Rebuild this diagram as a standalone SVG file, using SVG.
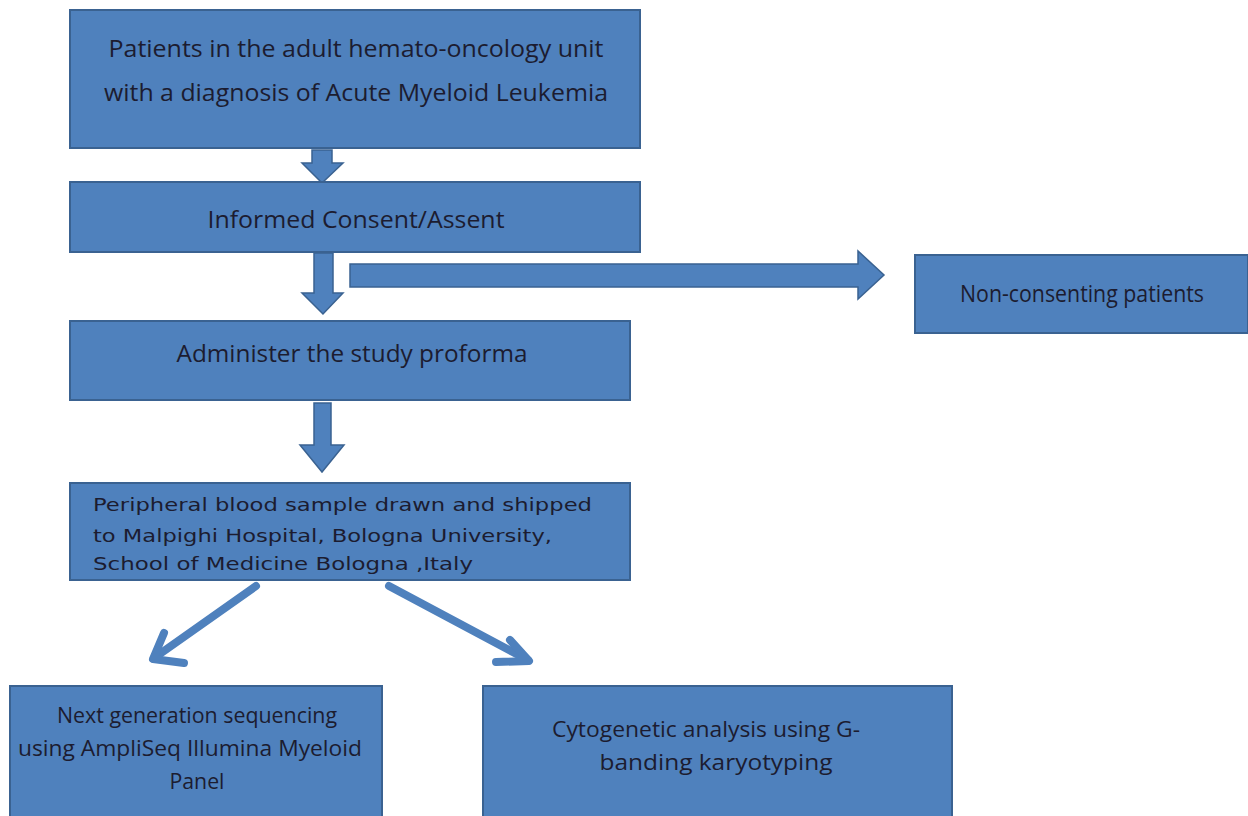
<svg xmlns="http://www.w3.org/2000/svg" width="1248" height="816" viewBox="0 0 1248 816">
<style>
.box{fill:#4f81bd;stroke:#3a6291;stroke-width:2}
.arr{fill:#4f81bd;stroke:#3a6291;stroke-width:1.5}
.t{font-family:"Open Sans","Liberation Sans",sans-serif;fill:#1c1c30;font-size:23px}
.v{font-family:"DejaVu Sans","Liberation Sans",sans-serif;fill:#1c1c30;font-size:18px}
.c{font-family:"Open Sans","Liberation Sans",sans-serif;fill:#1c1c30;font-size:21px}
</style>
<rect width="1248" height="816" fill="#ffffff"/>
<g id="connectors">
<polygon class="arr" points="312,150 332,150 332,163 343,163 322,183 302,163 312,163"/>
<polygon class="arr" points="314,253 333,253 333,293 343,293 323,314 302,293 314,293"/>
<polygon class="arr" points="350,264 858,264 858,251 884,275 858,299 858,287 350,287"/>
<polygon class="arr" points="314,403 331,403 331,445 344,445 322,472 300,445 314,445"/>
<g stroke="#4f81bd" stroke-width="8" fill="none" stroke-linecap="round" stroke-linejoin="round">
<line x1="256" y1="586" x2="154" y2="658"/>
<polyline points="164,633 153,659 184,663"/>
<line x1="389" y1="586" x2="528" y2="660"/>
<polyline points="510,640 529,661 496,662"/>
</g>
</g>
<g id="n1">
<rect class="box" x="70" y="10" width="570" height="138"/>
<text class="t" x="356" y="57" text-anchor="middle" textLength="495" lengthAdjust="spacingAndGlyphs">Patients in the adult hemato-oncology unit</text>
<text class="t" x="356" y="101" text-anchor="middle" textLength="504" lengthAdjust="spacingAndGlyphs">with a diagnosis of Acute Myeloid Leukemia</text>
</g>
<g id="n2">
<rect class="box" x="70" y="182" width="570" height="70"/>
<text class="t" x="356" y="228" text-anchor="middle" textLength="297" lengthAdjust="spacingAndGlyphs">Informed Consent/Assent</text>
</g>
<g id="n3">
<rect class="box" x="70" y="321" width="560" height="79"/>
<text class="t" x="352" y="362" text-anchor="middle" textLength="351" lengthAdjust="spacingAndGlyphs">Administer the study proforma</text>
</g>
<g id="n4">
<rect class="box" x="70" y="483" width="560" height="97"/>
<text class="v" x="93" y="511" textLength="499" lengthAdjust="spacingAndGlyphs">Peripheral blood sample drawn and shipped</text>
<text class="v" x="93" y="542" textLength="459" lengthAdjust="spacingAndGlyphs">to Malpighi Hospital, Bologna University,</text>
<text class="v" x="93" y="570" textLength="380" lengthAdjust="spacingAndGlyphs">School of Medicine Bologna ,Italy</text>
</g>
<g id="n5">
<rect class="box" x="915" y="255" width="333" height="78"/>
<text class="t" x="1082" y="302" text-anchor="middle" textLength="244" lengthAdjust="spacingAndGlyphs">Non-consenting patients</text>
</g>
<g id="n6">
<rect class="box" x="10" y="686" width="372" height="135"/>
<text class="c" x="197" y="723" text-anchor="middle" textLength="280" lengthAdjust="spacingAndGlyphs">Next generation sequencing</text>
<text class="c" x="190" y="756" text-anchor="middle" textLength="344" lengthAdjust="spacingAndGlyphs">using AmpliSeq Illumina Myeloid</text>
<text class="c" x="197" y="789" text-anchor="middle" textLength="55" lengthAdjust="spacingAndGlyphs">Panel</text>
</g>
<g id="n7">
<rect class="box" x="483" y="686" width="469" height="135"/>
<text class="c" x="706" y="737" text-anchor="middle" textLength="308" lengthAdjust="spacingAndGlyphs">Cytogenetic analysis using G-</text>
<text class="c" x="716" y="770" text-anchor="middle" textLength="233" lengthAdjust="spacingAndGlyphs">banding karyotyping</text>
</g>
</svg>
